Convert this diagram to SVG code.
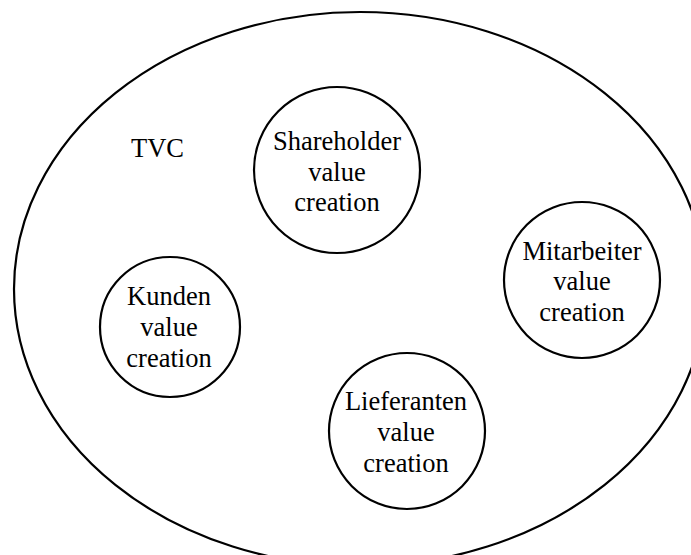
<svg xmlns="http://www.w3.org/2000/svg" width="691" height="555" viewBox="0 0 691 555">
  <style>
    .ring { fill: none; stroke: #000; stroke-width: 2.2; }
    .label { font-size: 26.5px; fill: #000; text-anchor: middle; }
  </style>
  <rect width="691" height="555" fill="#fff"/>

  <g font-family="'Liberation Serif', 'Times New Roman', serif">
    <!-- total value creation boundary -->
    <g id="tvc">
      <ellipse class="ring" cx="360" cy="289" rx="346" ry="277"/>
      <text class="label" x="131" y="157" text-anchor="start" style="text-anchor:start">TVC</text>
    </g>

    <g id="shareholder">
      <circle class="ring" cx="337" cy="170" r="83"/>
      <text class="label" x="337" y="150">Shareholder</text>
      <text class="label" x="337" y="181">value</text>
      <text class="label" x="337" y="211">creation</text>
    </g>

    <g id="mitarbeiter">
      <circle class="ring" cx="582" cy="280" r="78"/>
      <text class="label" x="582" y="260">Mitarbeiter</text>
      <text class="label" x="582" y="290">value</text>
      <text class="label" x="582" y="321">creation</text>
    </g>

    <g id="kunden">
      <circle class="ring" cx="170" cy="327" r="70"/>
      <text class="label" x="169" y="305">Kunden</text>
      <text class="label" x="169" y="336">value</text>
      <text class="label" x="169" y="367">creation</text>
    </g>

    <g id="lieferanten">
      <circle class="ring" cx="407" cy="431" r="78"/>
      <text class="label" x="406" y="410">Lieferanten</text>
      <text class="label" x="406" y="441">value</text>
      <text class="label" x="406" y="472">creation</text>
    </g>

    <!-- no connectors in this figure -->
    <g id="connectors"/>
  </g>
</svg>
